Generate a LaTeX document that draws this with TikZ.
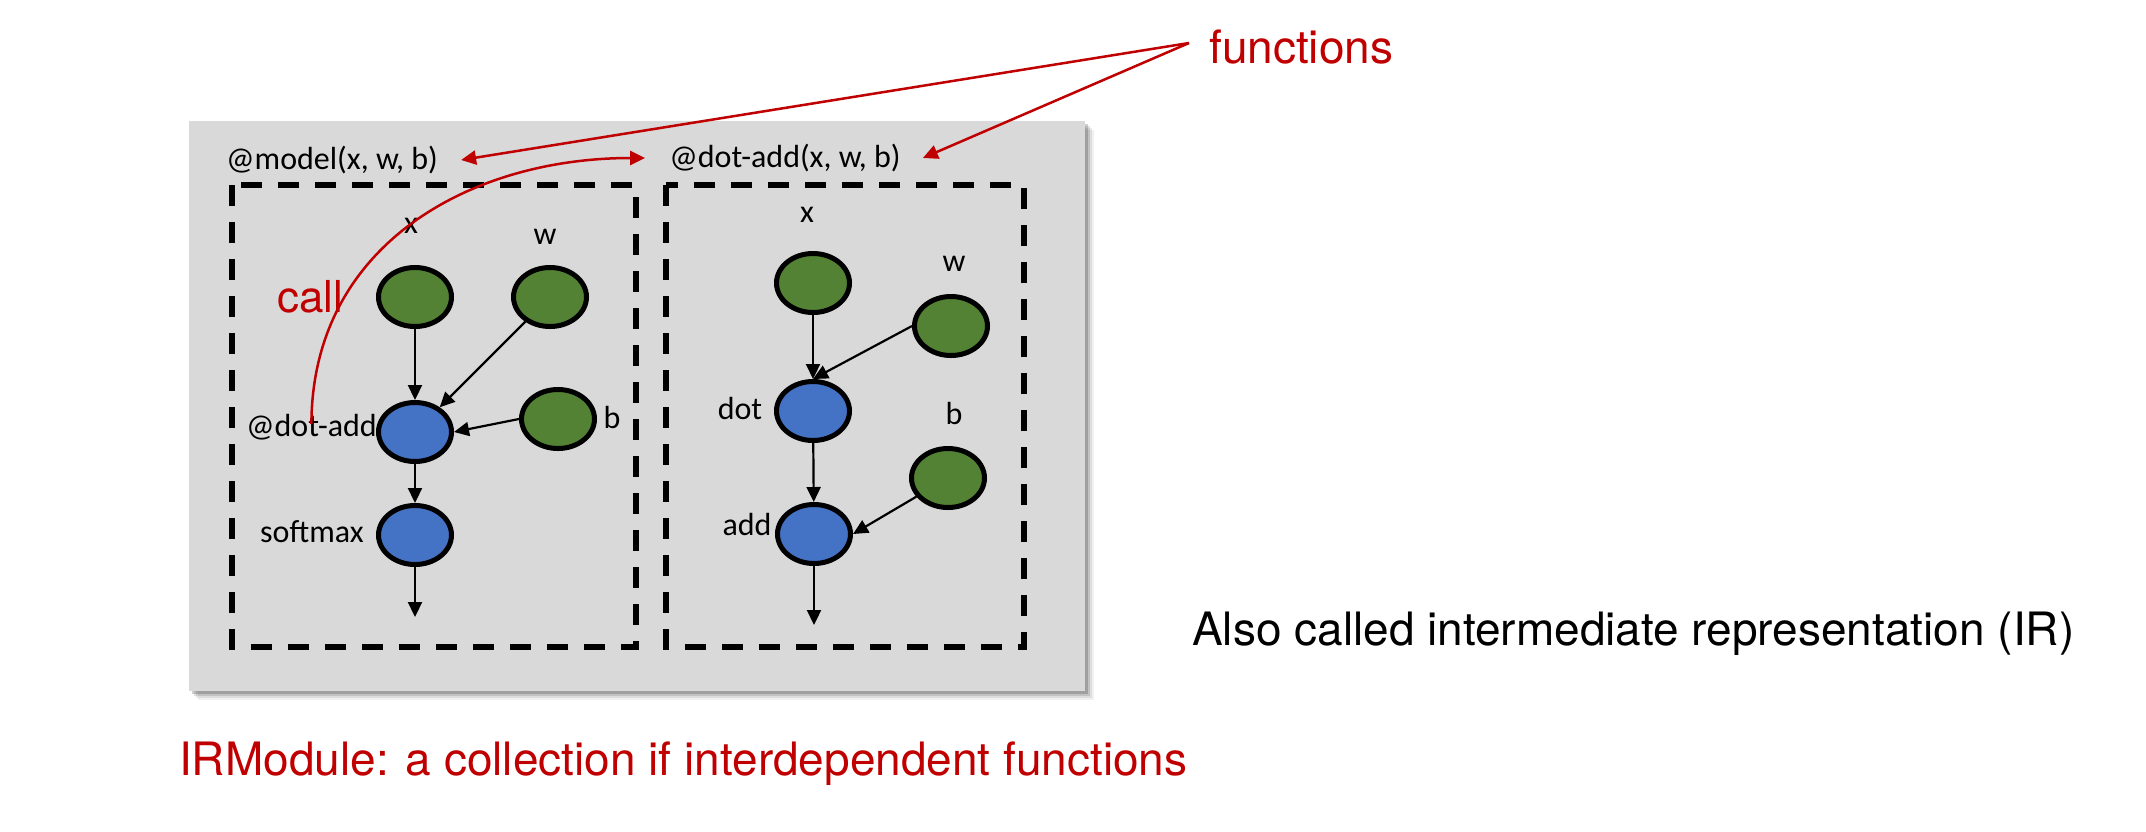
\documentclass[tikz,border=0pt]{standalone}
\usepackage{fontspec}
\setmainfont{TeX Gyre Heros}
\newfontfamily\calib{Carlito}
\usetikzlibrary{arrows.meta,shapes.geometric}
\definecolor{myred}{RGB}{192,0,0}
\definecolor{mygreen}{RGB}{84,130,53}
\definecolor{myblue}{RGB}{68,114,196}
\definecolor{panelgray}{RGB}{217,217,217}
\tikzset{
  inputnode/.style={ellipse,draw=black,line width=5pt,fill=mygreen,minimum width=73pt,minimum height=59pt,inner sep=0pt},
  opnode/.style={ellipse,draw=black,line width=5pt,fill=myblue,minimum width=73pt,minimum height=59pt,inner sep=0pt},
  lbl/.style={inner sep=0pt,font=\calib\fontsize{32}{37}\selectfont},
  edge/.style={line width=2.2pt,-{Triangle[length=15pt,width=14pt]}},
  redarrow/.style={draw=myred,line width=2.5pt,-{Triangle[length=15pt,width=14pt]}},
  dashbox/.style={draw=black,line width=5.5pt,dash pattern=on 21pt off 16pt},
  bigtext/.style={inner sep=0pt,font=\fontsize{46}{52}\selectfont}
}
\begin{document}
\begin{tikzpicture}[x=1pt,y=-1pt]
\useasboundingbox (0,0) rectangle (2146,831);
\fill[white] (0,0) rectangle (2146,831);
% shadow
\foreach \o/\op in {9/0.06,7/0.08,5/0.12,3/0.18}{
  \fill[black,opacity=\op] (189+\o,121+\o) rectangle (1085+\o,691+\o);
}
\fill[panelgray] (189,121) rectangle (1085,691);
% dashed boxes
\draw[dashbox] (232,185) rectangle (636,647);
\draw[dashbox] (666,185) rectangle (1024,647);
% function labels
\node[lbl] (mlabel) at (332,160) {@model(x, w, b)};
\node[lbl] (dlabel) at (785,158) {@dot-add(x, w, b)};
% left graph
\node[inputnode] (lx) at (415,297) {};
\node[inputnode] (lw) at (550,297) {};
\node[opnode] (lda) at (415,432) {};
\node[inputnode] (lb) at (558,419) {};
\node[opnode] (lsm) at (415,535) {};
\coordinate (lout) at (415,617);
\node[lbl] (lxl) at (411,226) {x};
\node[lbl] (lwl) at (545,237) {w};
\node[lbl,anchor=east] (ldal) at (377,427) {@dot-add};
\node[lbl] (lbl) at (612,417) {b};
\node[lbl] (lsml) at (312,532) {softmax};
\draw[edge] (lx) -- (lda);
\draw[edge] (lw) -- (lda);
\draw[edge] (lb.west) -- (lda.east);
\draw[edge] (lda) -- (lsm);
\draw[edge] (lsm) -- (lout);
% right graph
\node[inputnode] (rx) at (813,283) {};
\node[inputnode] (rw) at (951,326) {};
\node[opnode] (rdot) at (813,411) {};
\node[inputnode] (rb) at (948,478) {};
\node[opnode] (radd) at (814,534) {};
\coordinate (rout) at (814,625);
\node[lbl] (rxl) at (807,215) {x};
\node[lbl] (rwl) at (954,264) {w};
\node[lbl] (rdotl) at (740,408) {dot};
\node[lbl] (rbl) at (954,413) {b};
\node[lbl] (raddl) at (747,524) {add};
\draw[edge] (rx) -- (rdot);
\draw[edge] (rw.west) -- (rdot.north);
\draw[edge] (rdot) -- (radd);
\draw[edge] (rb) -- (radd.east);
\draw[edge] (radd) -- (rout);
% call curve
\coordinate (callstart) at ([yshift=-10pt]ldal.north);
\coordinate (callend) at ([xshift=-24pt]dlabel.west);
\draw[redarrow] (callstart) .. controls (312,245) and (470,158) .. (callend);
\node[inner sep=0pt,anchor=base,text=myred,font=\fontsize{44}{50}\selectfont] (call) at (310,312) {call};
% functions
\node[bigtext,anchor=base west,text=myred] (functions) at (1209,63) {functions};
\coordinate (fpt) at (1189,43);
\draw[redarrow] (fpt) -- ([xshift=23pt]mlabel.east);
\draw[redarrow] (fpt) -- ([xshift=22pt]dlabel.east);
% bottom / side texts
\node[bigtext,anchor=base west,text=myred] (irmod) at (179,775) {IRModule: a collection if interdependent functions};
\node[bigtext,anchor=base west,text=black] (also) at (1192,645) {Also called intermediate representation (IR)};
\end{tikzpicture}
\end{document}
